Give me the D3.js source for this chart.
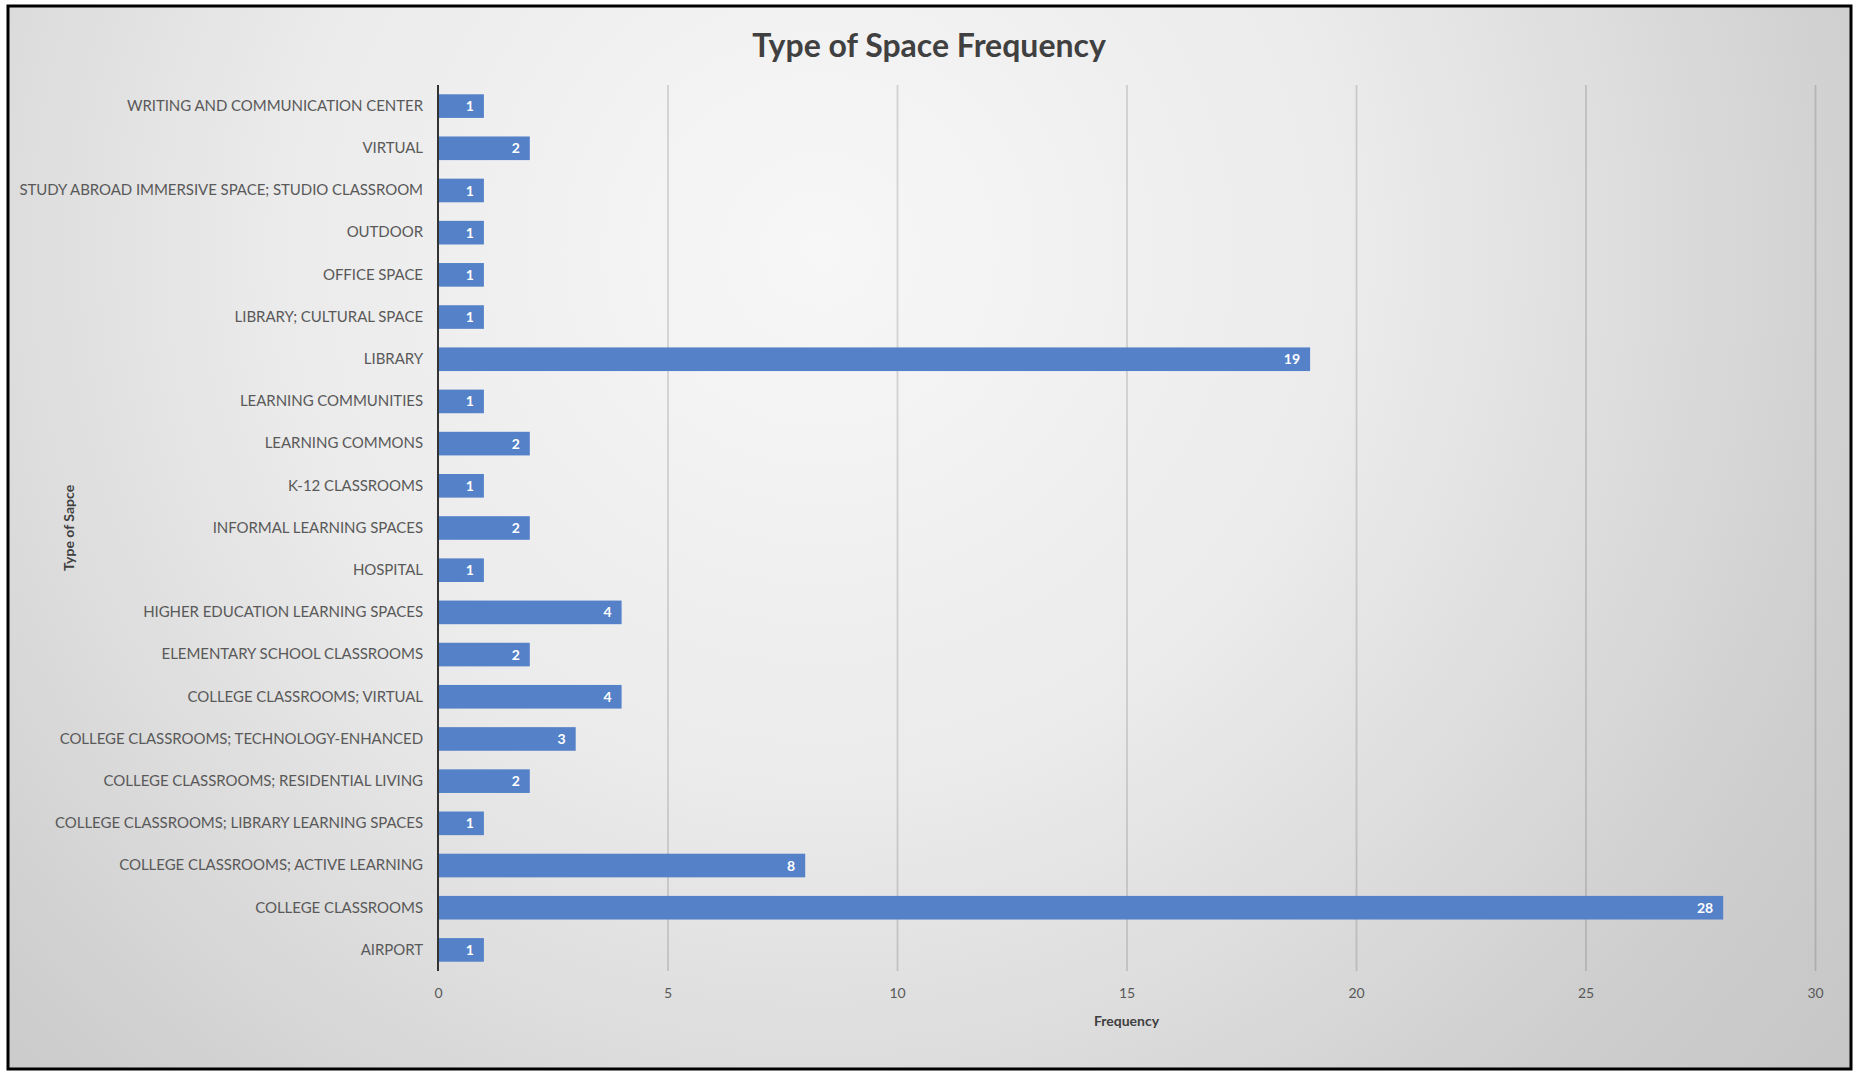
<!DOCTYPE html>
<html>
<head>
<meta charset="utf-8">
<script src="https://cdn.jsdelivr.net/npm/d3@7"></script>
<style>
  body { margin: 0; background: #ffffff; }
  svg { display: block; }
</style>
</head>
<body>
<div id="container"></div>
<script>
"use strict";

// SECTION: data (top of chart to bottom)
const categories = [
  "WRITING AND COMMUNICATION CENTER",
  "VIRTUAL",
  "STUDY ABROAD IMMERSIVE SPACE; STUDIO CLASSROOM",
  "OUTDOOR",
  "OFFICE SPACE",
  "LIBRARY; CULTURAL SPACE",
  "LIBRARY",
  "LEARNING COMMUNITIES",
  "LEARNING COMMONS",
  "K-12 CLASSROOMS",
  "INFORMAL LEARNING SPACES",
  "HOSPITAL",
  "HIGHER EDUCATION LEARNING SPACES",
  "ELEMENTARY SCHOOL CLASSROOMS",
  "COLLEGE CLASSROOMS; VIRTUAL",
  "COLLEGE CLASSROOMS; TECHNOLOGY-ENHANCED",
  "COLLEGE CLASSROOMS; RESIDENTIAL LIVING",
  "COLLEGE CLASSROOMS; LIBRARY LEARNING SPACES",
  "COLLEGE CLASSROOMS; ACTIVE LEARNING",
  "COLLEGE CLASSROOMS",
  "AIRPORT"
];
const frequency = [1, 2, 1, 1, 1, 1, 19, 1, 2, 1, 2, 1, 4, 2, 4, 3, 2, 1, 8, 28, 1];
const xTicks = [0, 5, 10, 15, 20, 25, 30];

const titleText = "Type of Space Frequency";
const xTitle = "Frequency";
const yTitle = "Type of Sapce";

// SECTION: layout
const width = 1856, height = 1071;
const plot = { left: 438, right: 1815, top: 85, bottom: 971 };
const font = "Lato, 'Open Sans', sans-serif";

const svg = d3.select("#container")
    .append("svg")
    .attr("width", width)
    .attr("height", height);

const defs = svg.append("defs");

// background shading, light around the upper middle, darker toward the edges
const bg = defs.append("radialGradient")
    .attr("id", "bg")
    .attr("gradientUnits", "userSpaceOnUse")
    .attr("cx", 820).attr("cy", 250)
    .attr("r", 1350);
bg.append("stop").attr("offset", "0").attr("stop-color", "#f7f7f7");
bg.append("stop").attr("offset", "0.4").attr("stop-color", "#ebebeb");
bg.append("stop").attr("offset", "0.6").attr("stop-color", "#dddddd");
bg.append("stop").attr("offset", "0.8").attr("stop-color", "#cecece");
bg.append("stop").attr("offset", "1").attr("stop-color", "#c5c5c5");

// gridlines get a little stronger toward the bottom
const gridGrad = defs.append("linearGradient")
    .attr("id", "gridGrad")
    .attr("gradientUnits", "userSpaceOnUse")
    .attr("x1", 0).attr("y1", plot.top)
    .attr("x2", 0).attr("y2", plot.bottom);
gridGrad.append("stop").attr("offset", "0").attr("stop-color", "#000").attr("stop-opacity", 0.14);
gridGrad.append("stop").attr("offset", "0.5").attr("stop-color", "#000").attr("stop-opacity", 0.27);
gridGrad.append("stop").attr("offset", "1").attr("stop-color", "#000").attr("stop-opacity", 0.36);

svg.append("rect")
    .attr("x", 8).attr("y", 6)
    .attr("width", 1843).attr("height", 1063)
    .attr("fill", "url(#bg)")
    .attr("stroke", "#000")
    .attr("stroke-width", 3);

// SECTION: scales
const x = d3.scaleLinear()
    .domain([0, 30])
    .range([plot.left, plot.right]);

const y = d3.scaleBand()
    .domain(categories)
    .range([plot.top, plot.bottom])
    .paddingInner(0.44)
    .paddingOuter(0.22);

// gridlines + x tick labels
const xAxis = svg.append("g")
    .attr("transform", `translate(0,${plot.bottom})`)
    .call(d3.axisBottom(x).tickValues(xTicks).tickSize(-(plot.bottom - plot.top)).tickPadding(17));
xAxis.select(".domain").remove();
xAxis.selectAll("line")
    .attr("stroke", "url(#gridGrad)")
    .attr("stroke-width", 1.8)
    .filter(d => d === 0).remove();
xAxis.selectAll("text")
    .style("font-family", font)
    .style("font-size", "14px")
    .attr("fill", "#595959");

// category labels
const yAxis = svg.append("g")
    .attr("transform", `translate(${plot.left},0)`)
    .call(d3.axisLeft(y).tickSize(0).tickPadding(15));
yAxis.select(".domain").remove();
yAxis.selectAll("text")
    .style("font-family", font)
    .style("font-size", "15px")
    .style("letter-spacing", "-0.05px")
    .attr("fill", "#595959");

// bars
svg.append("g")
    .selectAll("rect")
    .data(categories)
    .join("rect")
      .attr("x", x(0))
      .attr("y", d => y(d))
      .attr("width", (d, i) => x(frequency[i]) - x(0))
      .attr("height", y.bandwidth())
      .attr("fill", "#5581c9");

// data labels
svg.append("g")
    .selectAll("text")
    .data(categories)
    .join("text")
      .attr("x", (d, i) => x(frequency[i]) - 10)
      .attr("y", d => y(d) + y.bandwidth() / 2)
      .attr("dy", "0.36em")
      .attr("text-anchor", "end")
      .style("font-family", font)
      .style("font-size", "14px")
      .style("font-weight", "bold")
      .attr("fill", "#ffffff")
      .text((d, i) => frequency[i]);

// vertical axis line
svg.append("line")
    .attr("x1", x(0)).attr("x2", x(0))
    .attr("y1", plot.top).attr("y2", plot.bottom)
    .attr("stroke", "#333")
    .attr("stroke-width", 2);

// SECTION: titles
svg.append("text")
    .attr("x", 929)
    .attr("y", 57)
    .attr("text-anchor", "middle")
    .style("font-family", font)
    .style("font-size", "32px")
    .style("font-weight", "bold")
    .attr("fill", "#404040")
    .text(titleText);

svg.append("text")
    .attr("x", (plot.left + plot.right) / 2)
    .attr("y", 1026)
    .attr("text-anchor", "middle")
    .style("font-family", font)
    .style("font-size", "14px")
    .style("font-weight", "bold")
    .attr("fill", "#404040")
    .text(xTitle);

svg.append("text")
    .attr("transform", `translate(74,${(plot.top + plot.bottom) / 2}) rotate(-90)`)
    .attr("text-anchor", "middle")
    .style("font-family", font)
    .style("font-size", "14px")
    .style("font-weight", "bold")
    .attr("fill", "#404040")
    .text(yTitle);
</script>
</body>
</html>
